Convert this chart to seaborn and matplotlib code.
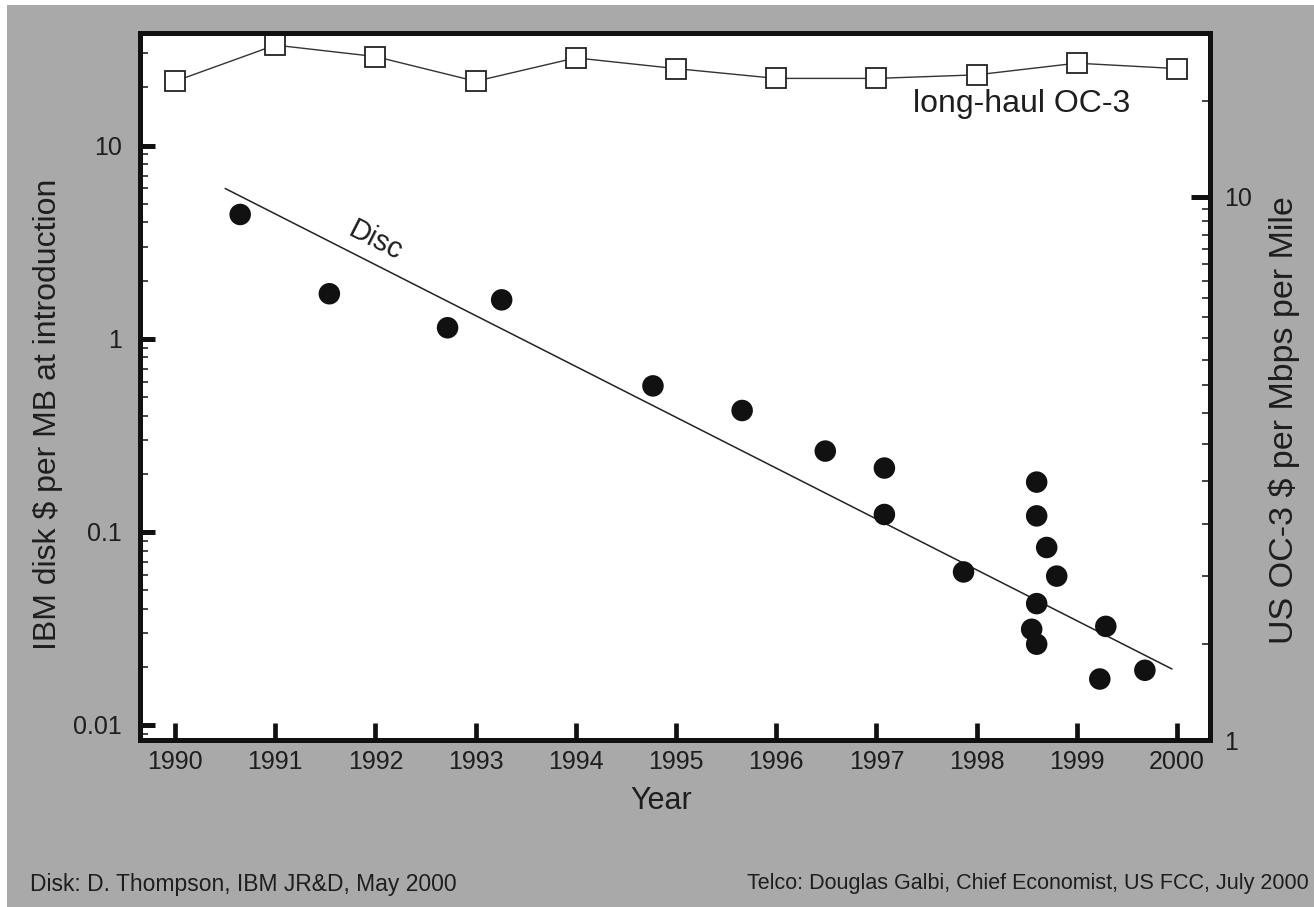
# disk_vs_telco_prices.py

import numpy as np
import pandas as pd
import matplotlib
matplotlib.use('Agg')
import matplotlib.pyplot as plt
import matplotlib.ticker as mticker
from matplotlib.patches import Rectangle
import seaborn as sns

# --- Data ---
# IBM disk $ per MB at introduction (left axis)
disk_years = [1990.65, 1991.54, 1992.72, 1993.26, 1994.77, 1995.66, 1996.49,
              1997.08, 1997.08, 1997.87, 1998.60, 1998.60, 1998.70, 1998.80,
              1998.60, 1998.55, 1998.60, 1999.29, 1999.23, 1999.68]
disk_price = [4.4, 1.71, 1.14, 1.59, 0.57, 0.425, 0.262,
              0.214, 0.123, 0.062, 0.181, 0.121, 0.083, 0.059,
              0.0425, 0.0313, 0.0262, 0.0324, 0.0173, 0.0192]

# fitted trend line for the disk prices
fit_years = [1990.5, 1999.95]
fit_price = [6.0, 0.0195]

# US long-haul OC-3 $ per Mbps per mile (right axis)
oc3_years = [1990, 1991, 1992, 1993, 1994, 1995, 1996, 1997, 1998, 1999, 2000]
oc3_price = [16.3, 19.0, 18.1, 16.3, 18.0, 17.2, 16.5, 16.5, 16.75, 17.6, 17.2]

year_ticks = list(range(1990, 2001))
left_ticks = [0.01, 0.1, 1, 10]
left_labels = ['0.01', '0.1', '1', '10']
right_ticks = [1, 10]
right_labels = ['1', '10']

GREY = '#a9a9a9'
INK = '#1e1e1e'


def draw_chart():
    sns.set_theme(style="ticks")
    plt.rcParams['font.family'] = ['Liberation Sans', 'DejaVu Sans']

    fig = plt.figure(figsize=(13.14, 9.07), dpi=100, facecolor='white')
    # grey backdrop (thin white strip on left and top like the scan)
    fig.patches.append(Rectangle((7 / 1314, 0), 1, 1 - 5 / 907, transform=fig.transFigure,
                                 facecolor=GREY, edgecolor='none', zorder=-10))

    ax = fig.add_axes([140 / 1314, 1 - 740 / 907, 1070 / 1314, 707 / 907])
    ax.set_facecolor('white')

    disk_df = pd.DataFrame({'year': disk_years, 'price': disk_price})
    fit_df = pd.DataFrame({'year': fit_years, 'price': fit_price})
    oc3_df = pd.DataFrame({'year': oc3_years, 'price': oc3_price})

    # --- left axis: disk ---
    sns.lineplot(data=fit_df, x='year', y='price', ax=ax, color='#222222', linewidth=1.1)
    sns.scatterplot(data=disk_df, x='year', y='price', ax=ax, color='#111111',
                    s=240, edgecolor='none', zorder=3)
    ax.set_yscale('log')
    ax.set_ylim(0.00836, 38.3)
    ax.set_xlim(1989.65, 2000.33)
    ax.set_yticks(left_ticks)
    ax.set_yticklabels(left_labels)
    ax.yaxis.set_minor_locator(mticker.LogLocator(base=10, subs=np.arange(2, 10), numticks=20))
    ax.yaxis.set_minor_formatter(mticker.NullFormatter())
    ax.set_xticks(year_ticks)
    ax.set_xticklabels([str(y) for y in year_ticks])

    # --- right axis: telco ---
    ax2 = ax.twinx()
    sns.lineplot(data=oc3_df, x='year', y='price', ax=ax2, color='#333333', linewidth=1.0,
                 marker='s', markersize=14, markerfacecolor='white',
                 markeredgecolor='#222222', markeredgewidth=1.3)
    ax2.set_yscale('log')
    ax2.set_ylim(1, 20)
    ax2.set_yticks(right_ticks)
    ax2.set_yticklabels(right_labels)
    ax2.yaxis.set_minor_locator(mticker.FixedLocator(list(np.arange(1.5, 10, 0.5)) + [15]))
    ax2.yaxis.set_minor_formatter(mticker.NullFormatter())

    # --- styling ---
    for a in (ax, ax2):
        for sp in a.spines.values():
            sp.set_visible(True)
            sp.set_linewidth(3.6)
            sp.set_color('#111111')
        a.set_xlabel('')
        a.set_ylabel('')
        a.grid(False)

    ax.tick_params(axis='y', which='major', direction='in', length=11, width=3.6,
                   labelsize=18, pad=13, colors='#111111', labelcolor=INK)
    ax.tick_params(axis='y', which='minor', direction='in', length=6, width=1.1, colors='#111111')
    ax.tick_params(axis='x', which='major', direction='in', length=12, width=3.4,
                   labelsize=18, pad=7, colors='#111111', labelcolor=INK)
    ax2.tick_params(axis='y', which='major', direction='in', length=14, width=3.6,
                    labelsize=18, pad=10, colors='#111111', labelcolor=INK)
    ax2.tick_params(axis='y', which='minor', direction='in', length=6, width=1.1, colors='#111111')

    # --- labels ---
    fig.text(48 / 1314, 1 - 414 / 907, 'IBM disk $ per MB at introduction', rotation=90,
             ha='center', va='center', fontsize=23, color=INK)
    fig.text(1284 / 1314, 1 - 420 / 907, 'US OC-3 $ per Mbps per Mile', rotation=90,
             ha='center', va='center', fontsize=24.5, color=INK)
    fig.text(661 / 1314, 1 - 801 / 907, 'Year', ha='center', va='center',
             fontsize=22, color=INK)

    ax.text(1992.0, 3.2, 'Disc', rotation=-27, ha='center', va='center',
            fontsize=21, color=INK)
    ax.text(0.824, 0.9, 'long-haul OC-3', transform=ax.transAxes, ha='center',
            va='center', fontsize=23, color=INK)

    fig.text(30 / 1314, 1 - 884 / 907, 'Disk: D. Thompson, IBM JR&D, May 2000',
             ha='left', va='center', fontsize=16.5, color=INK)
    fig.text(1309 / 1314, 1 - 884 / 907,
             'Telco: Douglas Galbi, Chief Economist, US FCC, July 2000',
             ha='right', va='center', fontsize=15.5, color=INK)

    fig.savefig('out.png', dpi=100, facecolor=fig.get_facecolor())
    plt.close(fig)


if __name__ == '__main__':
    draw_chart()
